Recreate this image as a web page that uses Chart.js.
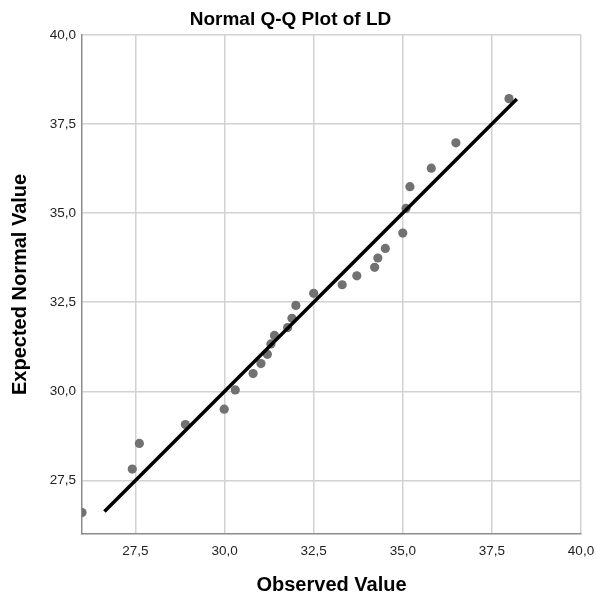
<!DOCTYPE HTML>
<html>

<head>
    <title>Normal Q-Q Plot of LD</title>
    <meta charset="utf-8">
    <script src="https://cdn.jsdelivr.net/npm/chart.js@4.4.1/dist/chart.umd.min.js"></script>
    <style>
        html, body {
            margin: 0;
            padding: 0;
            background: #fff;
        }

        .wrap {
            position: relative;
            width: 596px;
            height: 597px;
        }
    </style>
</head>

<body>
    <section class="wrap">
        <canvas id="qq" width=596 height=597></canvas>
    </section>

    <script>
        /* observed values (x) and expected normal values (y) */
        var observed = [26.0, 27.41, 27.61, 28.90, 29.99, 30.30, 30.80, 31.02, 31.20, 31.30, 31.40, 31.77, 31.89,
            32.00, 32.50, 33.30, 33.71, 34.21, 34.30, 34.51, 35.00, 35.09, 35.20, 35.80, 36.49, 37.98];
        var expected = [26.60, 27.82, 28.54, 29.07, 29.50, 30.04, 30.50, 30.78, 31.04, 31.33, 31.57, 31.79, 32.05,
            32.41, 32.75, 32.99, 33.24, 33.48, 33.74, 34.01, 34.44, 35.13, 35.74, 36.26, 36.97, 38.21];

        /* reference line y = x */
        var lineX = [26.63, 38.2];
        var lineY = [26.63, 38.2];

        var tickValues = [27.5, 30.0, 32.5, 35.0, 37.5, 40.0];

        var FONT = "'Liberation Sans', Arial, sans-serif";

        var pts = observed.map(function (v, i) { return { x: v, y: expected[i] }; });
        var linePts = lineX.map(function (v, i) { return { x: v, y: lineY[i] }; });

        function fmt(v) {
            return Number(v).toFixed(1).replace('.', ',');
        }

        function fixTicks(scale) {
            scale.ticks = tickValues.map(function (v) { return { value: v }; });
        }

        new Chart(document.getElementById('qq'), {
            type: 'scatter',
            data: {
                datasets: [{
                    // drawn last -> on top of the dots
                    type: 'line',
                    data: linePts,
                    borderColor: '#000',
                    borderWidth: 3.5,
                    pointRadius: 0,
                    fill: false,
                    clip: 0
                }, {
                    data: pts,
                    backgroundColor: '#717171',
                    borderWidth: 0,
                    pointRadius: 4.6,
                    clip: 0
                }]
            },
            options: {
                responsive: false,
                animation: false,
                events: [],
                layout: {
                    padding: { left: 0, right: 15, top: 0, bottom: 0 }
                },
                plugins: {
                    legend: { display: false },
                    tooltip: { enabled: false },
                    title: {
                        display: true,
                        text: 'Normal Q-Q Plot of LD',
                        color: '#000',
                        font: { family: FONT, size: 19, weight: 'bold' },
                        padding: { top: 8, bottom: 4 }
                    }
                },
                scales: {
                    x: {
                        type: 'linear',
                        min: 26,
                        max: 40,
                        afterBuildTicks: fixTicks,
                        afterFit: function (s) {
                            s.height = 63;
                            s.paddingLeft = 0;
                            s.paddingRight = 0;
                        },
                        grid: { color: '#d2d2d2', lineWidth: 1.5, drawTicks: false },
                        border: { color: '#8c8c8c', width: 1.5 },
                        ticks: {
                            color: '#222',
                            padding: 9,
                            maxRotation: 0,
                            font: { family: FONT, size: 13.5 },
                            callback: fmt
                        },
                        title: {
                            display: true,
                            text: 'Observed Value',
                            color: '#000',
                            font: { family: FONT, size: 20, weight: 'bold' },
                            padding: { top: 0, bottom: 0 }
                        }
                    },
                    y: {
                        type: 'linear',
                        min: 26,
                        max: 40,
                        afterBuildTicks: fixTicks,
                        afterFit: function (s) { s.width = 82; },
                        grid: { color: '#d2d2d2', lineWidth: 1.5, drawTicks: false },
                        border: { color: '#8c8c8c', width: 1.5 },
                        ticks: {
                            color: '#222',
                            padding: 6,
                            font: { family: FONT, size: 13.5 },
                            callback: fmt
                        },
                        title: {
                            display: true,
                            text: 'Expected Normal Value',
                            color: '#000',
                            font: { family: FONT, size: 20, weight: 'bold' },
                            padding: { top: 8, bottom: 0 }
                        }
                    }
                }
            }
        });
    </script>
</body>

</html>
